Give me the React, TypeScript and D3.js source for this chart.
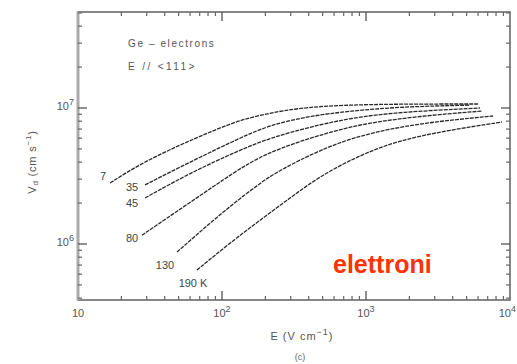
import React from 'react';
import * as d3 from 'd3';

// field E (V/cm) and drift velocity (cm/s)
const t7E = [16.7, 27, 51, 82.6, 133, 215, 348, 660, 1722, 6000];
const t7V = [2.81e6, 3.88e6, 5.35e6, 6.66e6, 8.16e6, 9.2e6, 1.0e7, 1.05e7, 1.07e7, 1.07e7];
const t35E = [29.2, 60, 133, 215, 408, 774, 1722, 5275];
const t35V = [2.72e6, 4.01e6, 6.02e6, 7.5e6, 8.73e6, 9.5e6, 1.02e7, 1.05e7];
const t45E = [29.2, 60, 133, 215, 408, 774, 1722, 6190];
const t45V = [2.18e6, 3.33e6, 4.91e6, 6.02e6, 7.25e6, 8.44e6, 9.35e6, 1.0e7];
const t80E = [27.8, 37.1, 92.3, 156, 253, 479, 908, 2371, 6390];
const t80V = [1.16e6, 1.43e6, 2.76e6, 4.01e6, 5.08e6, 6.33e6, 7.63e6, 8.73e6, 9.5e6];
const t130E = [48.7, 70.3, 114, 184, 253, 479, 908, 2371, 7620];
const t130V = [8.73e5, 1.23e6, 1.9e6, 2.81e6, 3.5e6, 4.91e6, 6.33e6, 7.76e6, 8.73e6];
const t190E = [67, 114, 184, 297, 479, 908, 1722, 3830, 8800];
const t190V = [6.44e5, 1.02e6, 1.5e6, 2.18e6, 3.16e6, 4.51e6, 5.82e6, 6.89e6, 7.89e6];

const curveLabels = ['7', '35', '45', '80', '130', '190 K'];
const xTickExps = [1, 2, 3, 4];
const yTickExps = [6, 7];

const W = 517;
const H = 364;
const left = 78, right = 510, top = 12, bottom = 300;

const App = () => {
  const x = d3.scaleLog().domain([10, 1e4]).range([left, right]);
  const y = d3.scaleLog().domain([1e6, 1e7]).range([244, 108]);

  const series = [
    [t7E, t7V], [t35E, t35V], [t45E, t45V],
    [t80E, t80V], [t130E, t130V], [t190E, t190V],
  ];

  const line = d3.line<[number, number]>()
    .x(d => x(d[0]))
    .y(d => y(d[1]))
    .curve(d3.curveBasis);

  // minor ticks
  const xMinor: number[] = [];
  for (let e = 1; e < 4; e++) for (let m = 2; m <= 9; m++) xMinor.push(m * 10 ** e);
  const yLo = y.invert(bottom), yHi = y.invert(top);
  const yMinor: number[] = [];
  for (let e = 5; e <= 7; e++) for (let m = 2; m <= 9; m++) {
    const v = m * 10 ** e;
    if (v > yLo && v < yHi) yMinor.push(v);
  }

  const labelPos = [
    [103, 180], [132, 191], [132, 207], [132, 242], [165, 269], [193, 287],
  ];

  const font = '"Liberation Sans", Arial, sans-serif';

  return (
    <svg width={W} height={H} style={{ position: 'absolute', left: 0, top: 0, background: '#fff' }}
      fontFamily={font}>
      {/* frame */}
      <rect x={left} y={top} width={right - left} height={bottom - top}
        fill="none" stroke="#6a6a6a" strokeWidth={1.6} />
      <line x1={left} x2={left} y1={top} y2={bottom} stroke="#aaa" strokeWidth={3} />

      {/* minor ticks */}
      {xMinor.map(v => (
        <g key={'xm' + v} stroke="#666" strokeWidth={1.2}>
          <line x1={x(v)} x2={x(v)} y1={bottom} y2={bottom - 4} />
          <line x1={x(v)} x2={x(v)} y1={top} y2={top + 4} />
        </g>
      ))}
      {xTickExps.slice(1, 3).map(e => (
        <g key={'xM' + e} stroke="#555" strokeWidth={1.3}>
          <line x1={x(10 ** e)} x2={x(10 ** e)} y1={bottom} y2={bottom - 9} />
          <line x1={x(10 ** e)} x2={x(10 ** e)} y1={top} y2={top + 9} />
        </g>
      ))}
      {yMinor.map(v => (
        <g key={'ym' + v} stroke="#666" strokeWidth={1.2}>
          <line x1={left} x2={left + 4} y1={y(v)} y2={y(v)} />
          <line x1={right} x2={right - 4} y1={y(v)} y2={y(v)} />
        </g>
      ))}
      {yTickExps.map(e => (
        <g key={'yM' + e} stroke="#555" strokeWidth={1.3}>
          <line x1={left} x2={left + 9} y1={y(10 ** e)} y2={y(10 ** e)} />
          <line x1={right} x2={right - 9} y1={y(10 ** e)} y2={y(10 ** e)} />
        </g>
      ))}

      {/* tick labels */}
      {xTickExps.map(e => {
        const last = e === 4;
        return (
          <text key={'xl' + e} x={last ? W - 1 : x(10 ** e)} y={317} fontSize={11} fill="#555"
            textAnchor={last ? 'end' : 'middle'}>
            10{e > 1 && <tspan dy={-5} fontSize={9}>{e}</tspan>}
          </text>
        );
      })}
      {yTickExps.map(e => (
        <text key={'yl' + e} x={left - 4} y={y(10 ** e) + 2} fontSize={11} fill="#555" textAnchor="end">
          10<tspan dy={-5} fontSize={9}>{e}</tspan>
        </text>
      ))}

      {/* curves */}
      {series.map(([es, vs], i) => (
        <path key={'c' + i}
          d={line(es.map((e, j) => [e, vs[j]] as [number, number])) ?? ''}
          fill="none" stroke="#2a2a2a" strokeWidth={1.3} strokeDasharray="4 1" />
      ))}
      {curveLabels.map((l, i) => (
        <text key={'l' + i} x={labelPos[i][0]} y={labelPos[i][1]} fontSize={11}
          fill="#444" textAnchor="middle">{l}</text>
      ))}

      {/* annotations */}
      <text x={128} y={47} fontSize={10} fill="#555" letterSpacing={1.6}>Ge – electrons</text>
      <text x={128} y={70} fontSize={10} fill="#555" letterSpacing={2.4}>E // &lt;111&gt;</text>

      {/* axis titles */}
      <text transform="translate(36,162) rotate(-90)" fontSize={11} fill="#555" textAnchor="middle"
        letterSpacing={0.8}>
        V<tspan dy={2} fontSize={8}>d</tspan><tspan dy={-2}> (cm s</tspan><tspan dy={-5} fontSize={8}>−1</tspan><tspan dy={5}>)</tspan>
      </text>
      <text x={302} y={340} fontSize={11} fill="#555" textAnchor="middle" letterSpacing={1}>
        E (V cm<tspan dy={-5} fontSize={9}>−1</tspan><tspan dy={5}>)</tspan>
      </text>
      <text x={300} y={360} fontSize={9} fill="#666" textAnchor="middle">(c)</text>

      <text x={333} y={273} fontSize={25} fontWeight="bold" fill="#ff3300">elettroni</text>
    </svg>
  );
};

export default App;
